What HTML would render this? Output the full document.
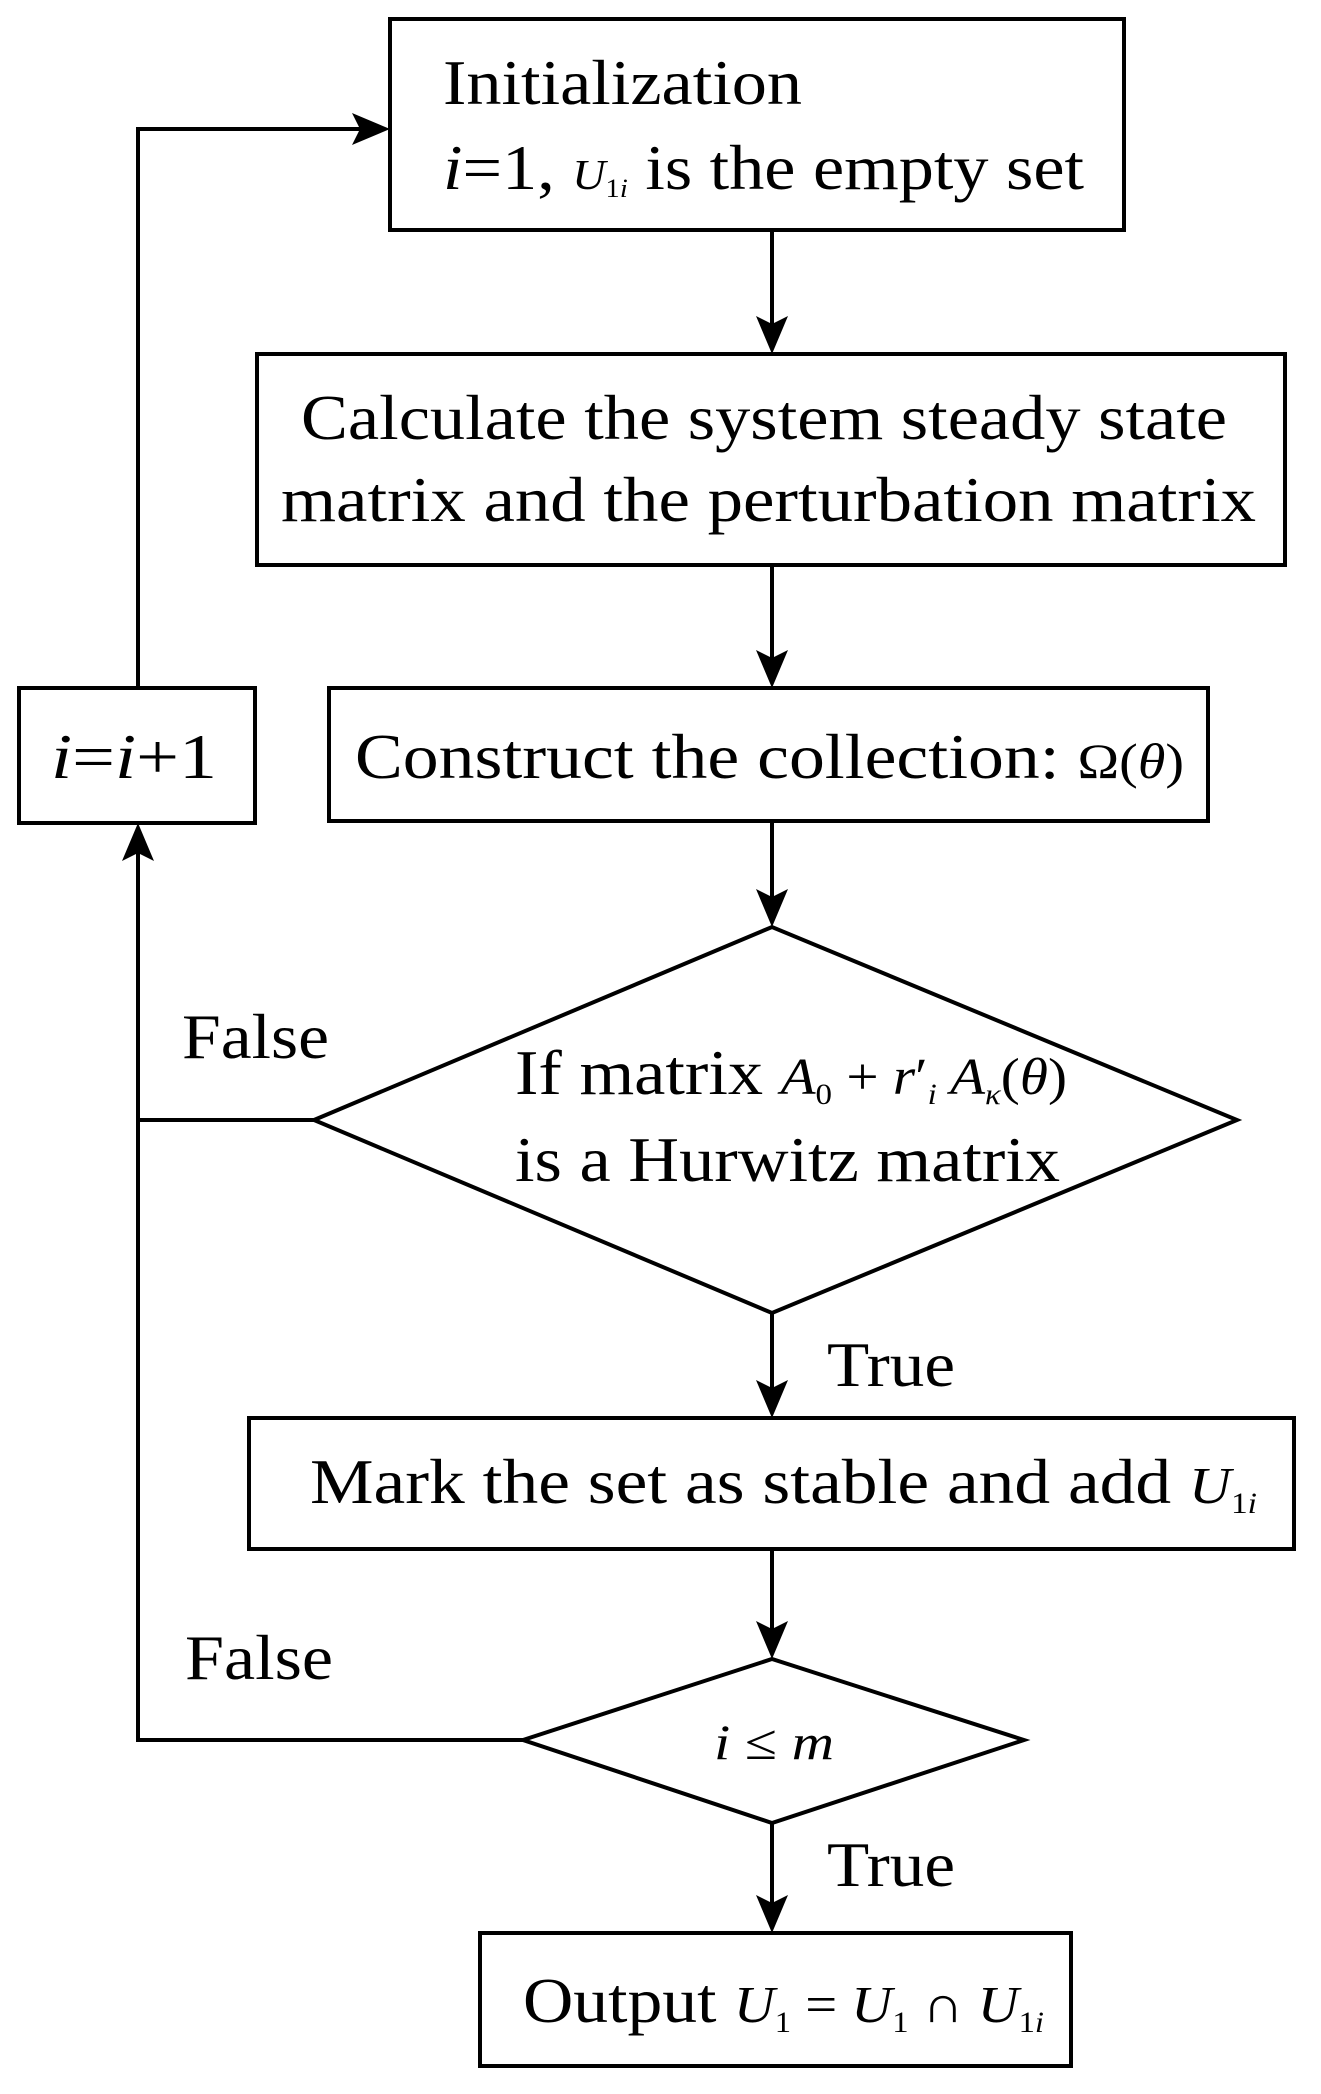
<!DOCTYPE html>
<html><head><meta charset="utf-8"><style>
html,body{margin:0;padding:0;background:#fff}
svg{display:block}
text{font-family:"Liberation Serif",serif;fill:#000}
</style></head><body>
<svg width="1321" height="2094" viewBox="0 0 1321 2094" xmlns="http://www.w3.org/2000/svg">
<defs><marker id="a" markerWidth="12" markerHeight="10" refX="12" refY="5" orient="auto" markerUnits="userSpaceOnUse" viewBox="0 0 12 10"><path d="M0,0 L12,5 L0,10 L3,5 Z" fill="#000"/></marker></defs>
<g fill="none" stroke="#000" stroke-width="4">
<rect x="390" y="19" width="734" height="211"/>
<rect x="257" y="354" width="1028" height="211"/>
<rect x="329" y="688" width="879" height="133"/>
<rect x="19" y="688" width="236" height="135"/>
<polygon points="314,1120 772,927 1237,1120 772,1313"/>
<rect x="249" y="1418" width="1045" height="131"/>
<polygon points="523,1740 772,1659 1024,1740 772,1823"/>
<rect x="480" y="1933" width="591" height="133"/>
<polyline points="138,688 138,129 360,129"/>
<polyline points="314,1120 138,1120"/>
<polyline points="523,1740 138,1740 138,853"/>
<line x1="772" y1="230" x2="772" y2="324"/>
<line x1="772" y1="565" x2="772" y2="658"/>
<line x1="772" y1="821" x2="772" y2="897"/>
<line x1="772" y1="1313" x2="772" y2="1388"/>
<line x1="772" y1="1549" x2="772" y2="1629"/>
<line x1="772" y1="1823" x2="772" y2="1903"/>
</g>
<g fill="#000">
<path d="M390,129 L352,113 L360,129 L352,145 Z"/>
<path d="M138,823 L122,861 L138,853 L154,861 Z"/>
<path d="M772,354 L756,316 L772,324 L788,316 Z"/>
<path d="M772,688 L756,650 L772,658 L788,650 Z"/>
<path d="M772,927 L756,889 L772,897 L788,889 Z"/>
<path d="M772,1418 L756,1380 L772,1388 L788,1380 Z"/>
<path d="M772,1659 L756,1621 L772,1629 L788,1621 Z"/>
<path d="M772,1933 L756,1895 L772,1903 L788,1895 Z"/>
</g>
<g font-size="64">
<text x="443" y="104" textLength="359" lengthAdjust="spacingAndGlyphs">Initialization</text>
<text x="443" y="189" textLength="641" lengthAdjust="spacingAndGlyphs"><tspan font-style="italic">i</tspan>=1, <tspan font-style="italic" font-size="42">U</tspan><tspan font-size="26" dy="8">1<tspan font-style="italic">i</tspan></tspan><tspan dy="-8"> is the empty set</tspan></text>
<text x="301" y="439" textLength="926" lengthAdjust="spacingAndGlyphs">Calculate the system steady state</text>
<text x="281" y="521" textLength="975" lengthAdjust="spacingAndGlyphs">matrix and the perturbation matrix</text>
<text x="355" y="778" textLength="829" lengthAdjust="spacingAndGlyphs">Construct the collection: <tspan font-size="50">Ω(<tspan font-style="italic">θ</tspan>)</tspan></text>
<text x="51" y="778" textLength="166" lengthAdjust="spacingAndGlyphs"><tspan font-style="italic">i</tspan>=<tspan font-style="italic">i</tspan>+1</text>
<text x="182" y="1058" textLength="147" lengthAdjust="spacingAndGlyphs">False</text>
<text x="515" y="1094" textLength="552" lengthAdjust="spacingAndGlyphs">If matrix <tspan font-style="italic" font-size="52">A</tspan><tspan font-size="30" dy="10">0</tspan><tspan dy="-10" font-size="52"> + <tspan font-style="italic">r</tspan>′</tspan><tspan font-size="30" font-style="italic" dy="10">i</tspan><tspan dy="-10" font-size="52" font-style="italic"> A</tspan><tspan font-size="30" font-style="italic" dy="10">κ</tspan><tspan dy="-10" font-size="52">(<tspan font-style="italic">θ</tspan>)</tspan></text>
<text x="515" y="1181" textLength="545" lengthAdjust="spacingAndGlyphs">is a Hurwitz matrix</text>
<text x="827" y="1386" textLength="128" lengthAdjust="spacingAndGlyphs">True</text>
<text x="310" y="1503" textLength="947" lengthAdjust="spacingAndGlyphs">Mark the set as stable and add <tspan font-style="italic" font-size="52">U</tspan><tspan font-size="30" dy="10">1<tspan font-style="italic">i</tspan></tspan></text>
<text x="185" y="1679" textLength="148" lengthAdjust="spacingAndGlyphs">False</text>
<text x="714" y="1759" font-size="50" textLength="120" lengthAdjust="spacingAndGlyphs"><tspan font-style="italic">i</tspan> ≤ <tspan font-style="italic">m</tspan></text>
<text x="827" y="1886" textLength="128" lengthAdjust="spacingAndGlyphs">True</text>
<text x="523" y="2022" textLength="521" lengthAdjust="spacingAndGlyphs">Output <tspan font-style="italic" font-size="52">U</tspan><tspan font-size="30" dy="10">1</tspan><tspan dy="-10" font-size="52"> = <tspan font-style="italic">U</tspan></tspan><tspan font-size="30" dy="10">1</tspan><tspan dy="-10" font-size="52"> ∩ <tspan font-style="italic">U</tspan></tspan><tspan font-size="30" dy="10">1<tspan font-style="italic">i</tspan></tspan></text>
</g>
</svg>
</body></html>
